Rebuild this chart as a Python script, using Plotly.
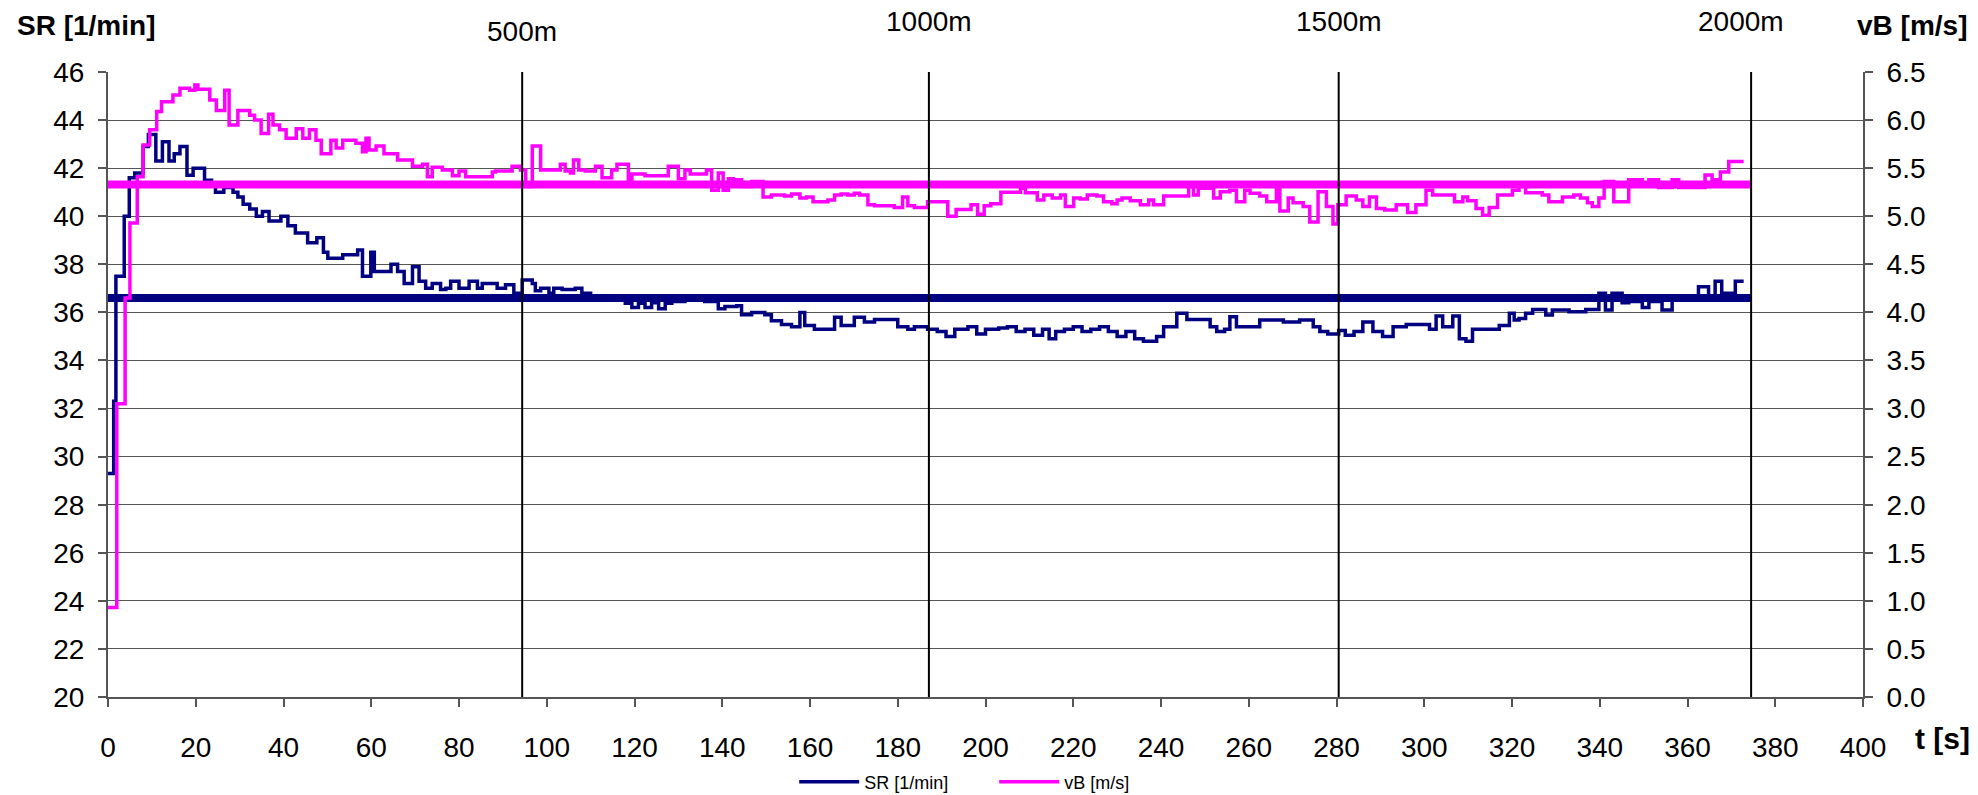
import plotly.graph_objects as go

# ---------------- data ----------------
# stroke rate SR [1/min] (step values; each value holds until next time)
sr_t = [0, 1.3, 1.8, 3.7, 4.85, 6.1, 8.0, 9.2, 10.9, 12.4, 13.9, 15.1, 16.4, 18.0, 19.4,
        22.0, 23.6, 24.5, 26.4, 28.5, 29.6, 30.8, 32.3, 33.8, 35.2, 36.7, 39.4, 41.0, 42.7,
        45.5, 47.6, 49.1, 50.1, 53.5, 56.9, 58.0, 59.9, 60.7, 64.5, 66.0, 67.5, 69.4, 70.9,
        72.4, 73.9, 75.8, 77.0, 78.1, 80.0, 82.3, 84.2, 85.3, 88.7, 90.6, 92.5, 94.4, 96.7,
        97.4, 98.6, 100.5, 101.6, 103.5, 106.5, 108.0, 110.0, 113.0, 115.5, 117.9, 119.4,
        120.9, 122.4, 123.9, 125.5, 127.0, 128.5, 131.5, 136.0, 139.1, 140.6, 143.3, 144.4,
        146.7, 149.7, 151.2, 153.5, 155.8, 157.7, 158.8, 161.0, 165.6, 167.1, 170.1, 172.4,
        174.7, 180.0, 182.3, 183.8, 186.8, 189.0, 191.0, 193.0, 196.0, 198.0, 200.0, 203.0,
        205.0, 207.0, 209.0, 211.0, 213.0, 214.5, 216.0, 218.0, 220.0, 222.0, 224.0, 226.0,
        228.0, 230.0, 232.0, 234.0, 236.0, 239.0, 240.6, 243.6, 245.9, 251.2, 252.7, 254.5,
        255.7, 257.2, 262.5, 267.9, 271.6, 274.7, 276.2, 278.0, 280.5, 282.0, 284.0, 286.0,
        288.3, 290.5, 292.9, 295.9, 301.2, 302.7, 304.2, 306.5, 308.0, 309.5, 311.0, 314.0,
        317.1, 319.4, 320.5, 321.6, 323.1, 324.7, 327.7, 329.2, 333.0, 336.8, 339.8, 341.3,
        342.8, 345.1, 346.6, 349.7, 351.2, 354.2, 356.5, 362.5, 364.8, 366.3, 367.8, 370.9,
        372.8]
sr_v = [29.3, 32.3, 37.5, 40.0, 41.6, 41.8, 42.9, 43.4, 42.3, 43.1, 42.3, 42.6, 42.9, 41.7, 42.0,
        41.5, 41.3, 41.0, 41.2, 41.0, 40.8, 40.5, 40.3, 40.0, 40.2, 39.8, 40.0, 39.6, 39.3,
        38.9, 39.1, 38.5, 38.25, 38.4, 38.6, 37.5, 38.5, 37.7, 38.0, 37.7, 37.2, 37.9, 37.3,
        37.0, 37.2, 36.95, 37.0, 37.3, 37.0, 37.3, 37.0, 37.2, 37.0, 37.15, 36.8, 37.35, 37.2,
        36.9, 37.0, 36.8, 37.0, 36.95, 37.0, 36.8, 36.6, 36.5, 36.6, 36.38, 36.2,
        36.38, 36.2, 36.4, 36.15, 36.38, 36.45, 36.6, 36.45, 36.15, 36.25, 36.28, 35.9,
        36.0, 35.9, 35.65, 35.5, 35.4, 36.0, 35.45, 35.3, 35.8, 35.45, 35.8, 35.6,
        35.7, 35.4, 35.3, 35.4, 35.3, 35.2, 35.0, 35.3, 35.4, 35.1, 35.3, 35.35,
        35.4, 35.2, 35.3, 35.05, 35.3, 34.9, 35.2, 35.3, 35.4, 35.2, 35.3, 35.4,
        35.2, 35.0, 35.2, 34.9, 34.8, 35.0, 35.4, 35.96, 35.7, 35.4, 35.2, 35.3,
        35.82, 35.4, 35.68, 35.6, 35.68, 35.4, 35.2, 35.1, 35.25, 35.05, 35.2, 35.6,
        35.2, 35.0, 35.4, 35.5, 35.3, 35.85, 35.4, 35.85, 34.9, 34.8, 35.3, 35.3,
        35.45, 35.96, 35.68, 35.75, 35.96, 36.12, 35.89, 36.1, 36.03, 36.12, 36.8, 36.1,
        36.8, 36.4, 36.45, 36.2, 36.45, 36.1, 36.55, 37.07, 36.55, 37.3, 36.8, 37.3,
        37.3]

# boat speed vB [m/s]
vb_t = [0, 2.0, 3.9, 5.0, 6.67, 8.0, 9.5, 11.1, 12.2, 14.8, 16.4, 18.6, 19.8, 20.5, 23.2,
        24.7, 26.6, 27.6, 29.6, 32.3, 33.4, 34.9, 36.6, 37.6, 39.1, 40.6, 42.9, 44.4, 45.9,
        47.4, 48.6, 50.8, 52.0, 53.5, 56.5, 58.0, 58.8, 59.5, 61.1, 62.9, 66.0, 69.4, 71.7,
        72.8, 73.9, 76.2, 78.5, 80.0, 81.5, 87.6, 88.3, 92.1, 94.0, 95.2, 96.7, 98.6, 103.1,
        104.2, 105.4, 106.1, 107.3, 108.8, 111.1, 112.6, 114.8, 116.0, 118.6, 119.4, 122.4,
        127.7, 130.0, 131.5, 132.7, 136.4, 137.6, 139.1, 140.2, 141.4, 142.5, 144.4, 146.7,
        149.3, 151.2, 154.2, 155.8, 157.7, 159.2, 160.7, 164.1, 165.6, 167.1, 168.6, 170.1,
        171.3, 173.2, 174.7, 179.2, 181.1, 182.3, 183.8, 186.8, 191.4, 193.3, 196.7, 198.2,
        199.7, 201.2, 203.5, 208.0, 209.1, 211.8, 213.3, 215.2, 217.1, 218.2, 220.1, 221.6,
        223.2, 225.4, 226.9, 228.8, 230.0, 231.1, 233.0, 235.3, 237.2, 238.3, 240.6, 246.3,
        247.4, 248.5, 252.0, 253.5, 255.7, 257.2, 259.1, 260.3, 262.5, 264.1, 266.3, 267.1,
        269.0, 270.1, 272.4, 273.9, 275.8, 277.7, 279.2, 280.3, 282.2, 284.5, 286.0, 287.5,
        289.1, 291.0, 293.6, 296.2, 298.1, 300.4, 301.9, 306.9, 308.8, 309.9, 311.8, 313.3,
        314.8, 316.7, 320.1, 321.6, 323.1, 326.9, 328.4, 331.5, 334.1, 335.6, 337.2, 338.3,
        339.8, 341.0, 343.2, 346.6, 349.7, 351.2, 353.4, 356.5, 358.0, 364.0, 365.6, 367.5,
        369.4, 372.8]
vb_v = [0.93, 3.05, 4.15, 4.93, 5.41, 5.74, 5.90, 6.09, 6.19, 6.26, 6.33, 6.31, 6.365, 6.32, 6.21,
        6.10, 6.31, 5.95, 6.10, 6.05, 6.00, 5.86, 6.06, 5.95, 5.90, 5.81, 5.91, 5.81, 5.90,
        5.79, 5.65, 5.79, 5.71, 5.79, 5.76, 5.67, 5.81, 5.69, 5.73, 5.65, 5.585, 5.52, 5.54,
        5.41, 5.51, 5.48, 5.42, 5.47, 5.41, 5.46, 5.47, 5.52, 5.48, 5.31, 5.73, 5.48, 5.54,
        5.47, 5.45, 5.585, 5.48, 5.47, 5.52, 5.40, 5.48, 5.54, 5.38, 5.44, 5.42,
        5.52, 5.39, 5.48, 5.44, 5.48, 5.27, 5.45, 5.27, 5.39, 5.38, 5.31, 5.36,
        5.20, 5.22, 5.21, 5.23, 5.19, 5.20, 5.15, 5.17, 5.22, 5.23, 5.22, 5.24,
        5.22, 5.12, 5.11, 5.09, 5.20, 5.11, 5.09, 5.15, 5.00, 5.07, 5.12, 5.02,
        5.11, 5.13, 5.25, 5.29, 5.245, 5.17, 5.22, 5.19, 5.22, 5.10, 5.19, 5.18,
        5.22, 5.21, 5.15, 5.13, 5.17, 5.19, 5.16, 5.12, 5.17, 5.12, 5.21, 5.31,
        5.22, 5.29, 5.19, 5.255, 5.27, 5.15, 5.27, 5.24, 5.21, 5.15, 5.33, 5.055,
        5.19, 5.14, 5.10, 4.94, 5.255, 5.10, 4.92, 5.12, 5.21, 5.17, 5.10, 5.20,
        5.08, 5.065, 5.12, 5.04, 5.12, 5.27, 5.22, 5.15, 5.20, 5.16, 5.08, 5.01,
        5.09, 5.22, 5.27, 5.31, 5.245, 5.22, 5.15, 5.20, 5.22, 5.19, 5.14, 5.10,
        5.19, 5.36, 5.15, 5.38, 5.34, 5.38, 5.30, 5.38, 5.30, 5.43, 5.38, 5.46,
        5.57, 5.57]

# averages over the race
sr_mean = 36.6
vb_mean = 5.33
race_end_t = 374.5

# distance markers
dist_t = [94.4, 187.1, 280.5, 374.5]
dist_labels = ["500m", "1000m", "1500m", "2000m"]

x_ticks = list(range(0, 401, 20))
sr_ticks = list(range(20, 47, 2))
vb_ticks = [i * 0.5 for i in range(14)]

NAVY = "#000080"
MAGENTA = "#FF00FF"
FONT = "Liberation Sans, Arial, sans-serif"

fig = go.Figure()

# mean lines
fig.add_trace(go.Scatter(x=[0, race_end_t], y=[sr_mean, sr_mean], mode="lines",
                         line=dict(color=NAVY, width=8), showlegend=False, hoverinfo="skip"))
fig.add_trace(go.Scatter(x=[0, race_end_t], y=[vb_mean, vb_mean], mode="lines", yaxis="y2",
                         line=dict(color=MAGENTA, width=8), showlegend=False, hoverinfo="skip"))

fig.add_trace(go.Scatter(x=vb_t, y=vb_v, mode="lines", name="vB [m/s]", yaxis="y2",
                         line=dict(color=MAGENTA, width=3.5, shape="hv")))
fig.add_trace(go.Scatter(x=sr_t, y=sr_v, mode="lines", name="SR [1/min]",
                         line=dict(color=NAVY, width=3.5, shape="hv")))

shapes = []
annotations = []
for i, (t, lab) in enumerate(zip(dist_t, dist_labels)):
    shapes.append(dict(type="line", xref="x", yref="paper", x0=t, x1=t, y0=0, y1=1,
                       line=dict(color="black", width=2), layer="above"))
    annotations.append(dict(x=t, xref="x", y=1.08 if i > 0 else 1.064, yref="paper",
                            text=lab, showarrow=False, xanchor="center", yanchor="middle",
                            xshift=-10 if i == 3 else 0,
                            font=dict(family=FONT, size=28, color="black")))

annotations += [
    dict(x=-0.053, y=1.074, xref="paper", yref="paper", text="<b>SR [1/min]</b>", showarrow=False,
         xanchor="left", yanchor="middle", font=dict(family=FONT, size=28, color="black")),
    dict(x=1.0, y=1.074, xref="paper", yref="paper", text="<b>vB [m/s]</b>", showarrow=False,
         xanchor="left", yanchor="middle", xshift=-8, font=dict(family=FONT, size=28, color="black")),
    dict(x=1.0, y=-0.066, xref="paper", yref="paper", text="<b>t [s]</b>", showarrow=False,
         xanchor="left", yanchor="middle", xshift=50, font=dict(family=FONT, size=30, color="black")),
]

fig.update_layout(
    width=1978, height=795,
    margin=dict(l=108, r=115, t=72, b=98, autoexpand=False),
    paper_bgcolor="white", plot_bgcolor="white",
    font=dict(family=FONT, size=28, color="black"),
    xaxis=dict(range=[0, 400], tickvals=x_ticks, ticks="outside", ticklen=8, tickwidth=2,
               tickcolor="#555555", showline=True, linecolor="#555555", linewidth=2,
               showgrid=False, zeroline=False, ticklabelstandoff=16, automargin=False,
               tickfont=dict(family=FONT, size=28, color="black")),
    yaxis=dict(range=[20, 46], tickvals=sr_ticks, ticks="outside", ticklen=8, tickwidth=2,
               tickcolor="#555555", showline=True, linecolor="#555555", linewidth=2,
               showgrid=True, gridcolor="#555555", gridwidth=1.3, zeroline=False, automargin=False,
               ticklabelstandoff=8, tickfont=dict(family=FONT, size=28, color="black")),
    yaxis2=dict(range=[0, 6.5], tickvals=vb_ticks, tickformat=".1f", overlaying="y", side="right",
                ticks="outside", ticklen=8, tickwidth=2, tickcolor="#555555", automargin=False,
                showline=True, linecolor="#555555", linewidth=2, showgrid=False, zeroline=False,
                ticklabelstandoff=8, tickfont=dict(family=FONT, size=28, color="black")),
    legend=dict(orientation="h", x=0.391, y=-0.136, xanchor="left", yanchor="middle",
                traceorder="reversed", itemwidth=60, entrywidth=125, entrywidthmode="pixels",
                font=dict(family=FONT, size=18, color="black"), bgcolor="rgba(0,0,0,0)"),
    shapes=shapes,
    annotations=annotations,
)

fig.write_html("out.html", config={"displayModeBar": False},
               post_script="document.body.style.margin='0';document.body.style.overflow='hidden';")
